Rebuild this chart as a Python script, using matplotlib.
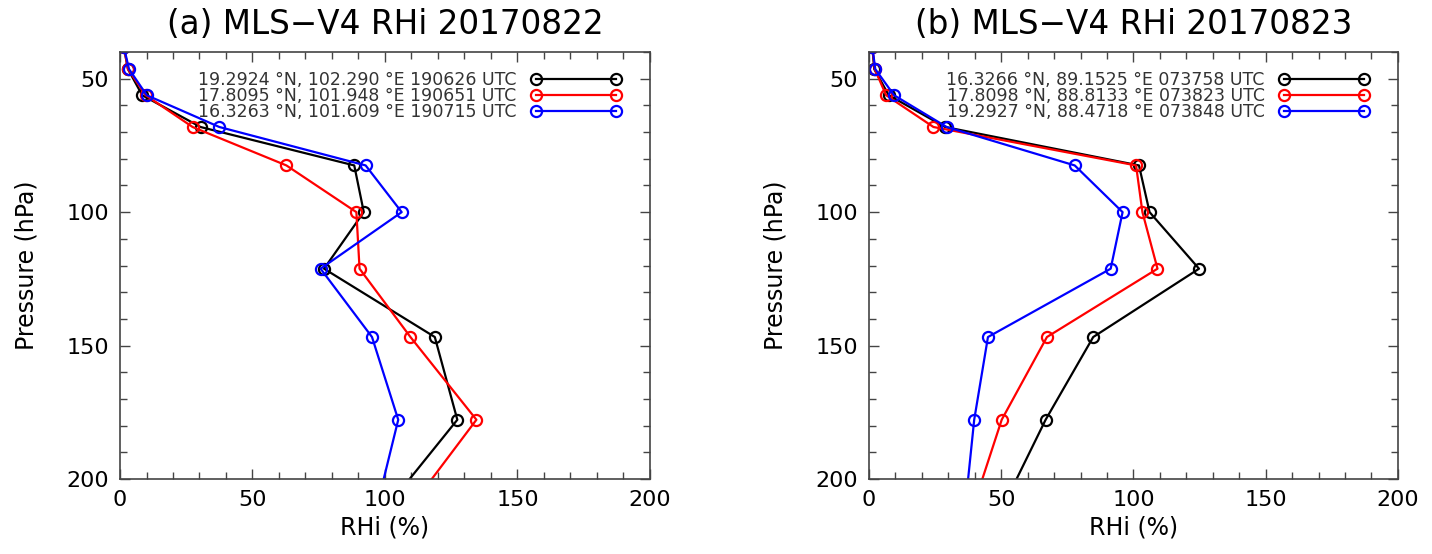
import matplotlib
matplotlib.use("Agg")
import matplotlib.pyplot as plt
from matplotlib.ticker import MultipleLocator

# MLS pressure levels (hPa); first and last fall outside the plotted range
pressure = [38.3, 46.4, 56.2, 68.1, 82.5, 100.0, 121.2, 146.8, 177.8, 215.4]

# panel (a) 20170822 RHi profiles (%)
rhi_a_black = [1.5, 3.0, 8.4, 30.4, 88.4, 92.0, 77.0, 118.8, 127.3, 96.8]
rhi_a_red = [1.5, 3.0, 9.7, 27.4, 62.8, 89.2, 90.4, 109.6, 134.5, 106.0]
rhi_a_blue = [1.5, 3.4, 10.1, 37.5, 92.7, 106.3, 75.7, 95.1, 105.0, 95.7]
labels_a = ["19.2924 \u00b0N, 102.290 \u00b0E 190626 UTC",
            "17.8095 \u00b0N, 101.948 \u00b0E 190651 UTC",
            "16.3263 \u00b0N, 101.609 \u00b0E 190715 UTC"]

# panel (b) 20170823 RHi profiles (%)
rhi_b_black = [1.3, 2.0, 7.5, 28.8, 102.1, 106.1, 124.8, 84.8, 66.8, 48.2]
rhi_b_red = [1.3, 2.2, 6.5, 24.4, 101.0, 103.4, 109.1, 67.3, 50.2, 37.8]
rhi_b_blue = [1.3, 2.4, 9.5, 29.4, 77.8, 95.9, 91.4, 45.0, 39.8, 35.9]
labels_b = ["16.3266 \u00b0N, 89.1525 \u00b0E 073758 UTC",
            "17.8098 \u00b0N, 88.8133 \u00b0E 073823 UTC",
            "19.2927 \u00b0N, 88.4718 \u00b0E 073848 UTC"]

titles = ["(a) MLS\u2212V4 RHi 20170822", "(b) MLS\u2212V4 RHi 20170823"]
colors = ["black", "#ff0000", "#0000ff"]

plt.rcParams['font.family'] = ['DejaVu Sans']

fig = plt.figure(figsize=(14.32, 5.54), dpi=100)
ax_a = fig.add_axes([0.0838, 0.1354, 0.3701, 0.7707])
ax_b = fig.add_axes([0.6068, 0.1354, 0.3694, 0.7707])

panels = [(ax_a, [rhi_a_black, rhi_a_red, rhi_a_blue], labels_a, titles[0]),
          (ax_b, [rhi_b_black, rhi_b_red, rhi_b_blue], labels_b, titles[1])]

for ax, profiles, labels, title in panels:
    for rhi, col, lab in zip(profiles, colors, labels):
        ax.plot(rhi, pressure, color=col, lw=1.6, marker='o', ms=8,
                mfc='none', mec=col, mew=1.6, label=lab)
    ax.set_xlim(0, 200)
    ax.set_ylim(200, 40)
    ax.xaxis.set_major_locator(MultipleLocator(50))
    ax.xaxis.set_minor_locator(MultipleLocator(10))
    ax.yaxis.set_major_locator(MultipleLocator(50))
    ax.yaxis.set_minor_locator(MultipleLocator(10))
    ax.tick_params(which='both', direction='in', top=True, right=True,
                   labelsize=16, color='#444444')
    ax.tick_params(which='major', length=7, width=1, pad=8)
    ax.tick_params(which='minor', length=5, width=1)
    for sp in ax.spines.values():
        sp.set_color('#444444')
        sp.set_linewidth(1.2)
    ax.set_xlabel("RHi (%)", fontsize=17, labelpad=4)
    ax.set_ylabel("Pressure (hPa)", fontsize=17, labelpad=20)
    ax.set_title(title, fontsize=23.5, pad=13)
    leg = ax.legend(loc='upper right', bbox_to_anchor=(0.945, 0.955),
                    frameon=False, numpoints=2, markerfirst=False,
                    fontsize=12.5, handlelength=5.2, handletextpad=0.8,
                    labelspacing=-0.12, borderaxespad=0.0, borderpad=0.0)
    for t in leg.get_texts():
        t.set_color('#333333')

fig.savefig("out.png", dpi=100)
